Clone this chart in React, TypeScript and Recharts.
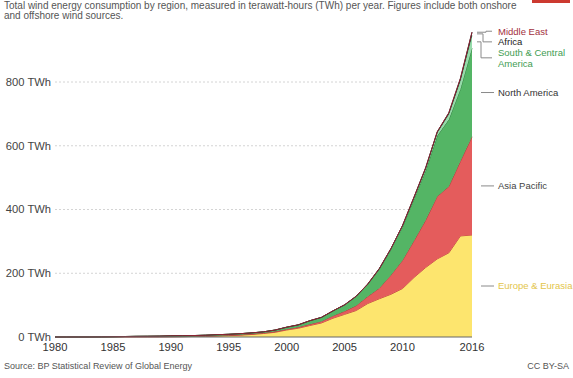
import React from "react";
import { AreaChart, Area, XAxis, YAxis, CartesianGrid, ReferenceDot } from "recharts";

// Wind energy consumption by region, TWh per year (1980–2016)
const years = [
  1980, 1981, 1982, 1983, 1984, 1985, 1986, 1987, 1988, 1989,
  1990, 1991, 1992, 1993, 1994, 1995, 1996, 1997, 1998, 1999,
  2000, 2001, 2002, 2003, 2004, 2005, 2006, 2007, 2008, 2009,
  2010, 2011, 2012, 2013, 2014, 2015, 2016,
];

const europeEurasia = [
  0, 0, 0, 0, 0.1, 0.2, 0.3, 0.4, 0.5, 0.6,
  0.8, 1.1, 1.6, 2.4, 3.3, 4.4, 5.8, 7.9, 11.0, 14.8,
  22.0, 27.5, 36.0, 44.0, 59.0, 71.0, 83.0, 105.0, 120.0, 134.0,
  152.0, 187.0, 218.0, 245.0, 264.0, 317.0, 320.0,
];

const asiaPacific = [
  0, 0, 0, 0, 0, 0, 0, 0, 0.01, 0.02,
  0.05, 0.06, 0.1, 0.2, 0.5, 0.9, 1.2, 1.6, 1.9, 2.2,
  2.6, 3.1, 3.8, 5.0, 7.2, 9.6, 15.0, 22.0, 33.0, 60.0,
  88.0, 115.0, 148.0, 196.0, 208.0, 234.0, 308.0,
];

const northAmerica = [
  0, 0.01, 0.02, 0.05, 0.2, 0.6, 1.2, 1.7, 1.8, 2.1,
  2.8, 2.9, 2.9, 3.0, 3.4, 3.2, 3.4, 3.4, 3.2, 4.7,
  5.9, 7.1, 10.8, 12.0, 15.0, 19.4, 28.7, 37.6, 59.6, 80.3,
  105.1, 131.6, 155.8, 190.0, 210.1, 226.4, 278.0,
];

const southCentralAmerica = [
  0, 0, 0, 0, 0, 0, 0, 0, 0, 0,
  0, 0, 0, 0, 0, 0, 0, 0, 0.01, 0.05,
  0.1, 0.1, 0.1, 0.1, 0.2, 0.2, 0.4, 0.6, 0.9, 1.5,
  2.8, 3.5, 6.4, 9.7, 16.9, 27.0, 40.0,
];

const africa = [
  0, 0, 0, 0, 0, 0, 0, 0, 0, 0,
  0, 0, 0, 0, 0.01, 0.02, 0.03, 0.05, 0.1, 0.1,
  0.2, 0.3, 0.4, 0.5, 0.6, 0.7, 0.8, 0.9, 1.1, 1.3,
  1.5, 2.1, 2.5, 2.9, 4.0, 6.4, 10.0,
];

const middleEast = [
  0, 0, 0, 0, 0, 0, 0, 0, 0, 0,
  0, 0, 0, 0, 0, 0, 0, 0, 0, 0,
  0.1, 0.1, 0.1, 0.1, 0.1, 0.1, 0.1, 0.1, 0.1, 0.1,
  0.2, 0.2, 0.2, 0.2, 0.2, 0.3, 0.3,
];

const xTicks = [1980, 1985, 1990, 1995, 2000, 2005, 2010, 2016];
const yTicks = [0, 200, 400, 600, 800];
const gridValues = [200, 400, 600, 800];

const series = [
  { key: "europe", name: "Europe & Eurasia", values: europeEurasia, fill: "#fde56e", stroke: "#c2553a", label: "#e3c54a" },
  { key: "asia", name: "Asia Pacific", values: asiaPacific, fill: "#e45c5c", stroke: "#b33a3a", label: "#444" },
  { key: "northAmerica", name: "North America", values: northAmerica, fill: "#54b565", stroke: "#2f7d3c", label: "#333" },
  { key: "southAmerica", name: "South & Central America", values: southCentralAmerica, fill: "#97dbab", stroke: "#6fc48a", label: "#3f9d52" },
  { key: "africa", name: "Africa", values: africa, fill: "#2d3a33", stroke: "#222", label: "#222" },
  { key: "middleEast", name: "Middle East", values: middleEast, fill: "#a83240", stroke: "#8e2434", label: "#a3303e" },
];

const data = years.map((year, i) => {
  const row: Record<string, number> = { year };
  series.forEach((s) => {
    row[s.key] = s.values[i];
  });
  return row;
});

// midpoint of each band at the final year, used to anchor its label
const last = years.length - 1;
let running = 0;
const bandMids = series.map((s) => {
  const v = s.values[last];
  const mid = running + v / 2;
  running += v;
  return mid;
});

// label layout: pixel offset of the text from the band midpoint, elbow for crowded labels
const labelLayout: Record<string, { dy: number; lines: string[]; elbow?: number }> = {
  europe: { dy: 0, lines: ["Europe & Eurasia"] },
  asia: { dy: 0, lines: ["Asia Pacific"] },
  northAmerica: { dy: 0, lines: ["North America"] },
  southAmerica: { dy: 16, lines: ["South & Central", "America"], elbow: 9 },
  africa: { dy: 8, lines: ["Africa"], elbow: 11 },
  middleEast: { dy: -1, lines: ["Middle East"], elbow: 14 },
};

const FONT = "'Liberation Sans', Arial, Helvetica, sans-serif";

const makeLabelShape = (key: string, color: string) => (props: any) => {
  const { cx, cy } = props;
  const layout = labelLayout[key];
  const ty = cy + layout.dy;
  const lineH = 11;
  const n = layout.lines.length;
  const path = layout.elbow
    ? `M${cx + 5},${cy} H${cx + layout.elbow} V${ty} H${cx + 20}`
    : `M${cx + 9},${ty} H${cx + 22}`;
  return (
    <g>
      <path d={path} stroke="#8a8a8a" strokeWidth={1} fill="none" />
      {layout.lines.map((line, i) => (
        <text
          key={i}
          x={cx + 26}
          y={ty + (i - (n - 1) / 2) * lineH}
          dy="0.35em"
          fontSize={9.5}
          fontFamily={FONT}
          fill={color}
        >
          {line}
        </text>
      ))}
    </g>
  );
};

const YTick = (props: any) => {
  const { x, y, payload } = props;
  return (
    <text x={x} y={y} dy="0.35em" textAnchor="end" fontSize={11.2} fontFamily={FONT} fill="#444">
      {`${payload.value} TWh`}
    </text>
  );
};

export default function App() {
  return (
    <div
      style={{
        position: "absolute",
        left: 0,
        top: 0,
        width: 573,
        height: 378,
        background: "#fff",
        fontFamily: FONT,
        overflow: "hidden",
      }}
    >
      <div
        style={{
          position: "absolute",
          left: 4,
          top: 1,
          width: 530,
          fontSize: 10,
          lineHeight: "10px",
          color: "#555",
        }}
      >
        Total wind energy consumption by region, measured in terawatt-hours (TWh) per year. Figures include both onshore
        <br />
        and offshore wind sources.
      </div>
      <div
        style={{
          position: "absolute",
          left: 532,
          top: 0,
          width: 38,
          height: 3,
          background: "#cc3a30",
        }}
      />
      <AreaChart
        width={573}
        height={378}
        data={data}
        margin={{ top: 31, right: 101, bottom: 21, left: 0 }}
      >
        <CartesianGrid
          vertical={false}
          horizontalValues={gridValues}
          stroke="#d4d4d4"
          strokeDasharray="2 2"
        />
        <XAxis
          dataKey="year"
          type="number"
          domain={[1980, 2016]}
          ticks={xTicks}
          interval={0}
          height={20}
          tickLine={false}
          tickSize={0}
          tickMargin={6}
          axisLine={{ stroke: "#666" }}
          tick={{ fontSize: 11.2, fill: "#333", fontFamily: FONT }}
        />
        <YAxis
          type="number"
          domain={[0, 960]}
          ticks={yTicks}
          width={55}
          axisLine={false}
          tickLine={false}
          tickSize={0}
          tickMargin={4}
          tick={<YTick />}
        />
        {series.map((s) => (
          <Area
            key={s.key}
            type="linear"
            dataKey={s.key}
            name={s.name}
            stackId="1"
            fill={s.fill}
            fillOpacity={1}
            stroke={s.stroke}
            strokeWidth={1}
            isAnimationActive={false}
            dot={false}
            activeDot={false}
          />
        ))}
        {series.map((s, i) => (
          <ReferenceDot
            key={`label-${s.key}`}
            x={2016}
            y={bandMids[i]}
            r={0}
            ifOverflow="visible"
            shape={makeLabelShape(s.key, s.label)}
          />
        ))}
      </AreaChart>
      <div
        style={{
          position: "absolute",
          left: 4,
          top: 361,
          fontSize: 9,
          color: "#555",
        }}
      >
        Source: BP Statistical Review of Global Energy
      </div>
      <div
        style={{
          position: "absolute",
          right: 4,
          top: 361,
          fontSize: 9,
          color: "#555",
        }}
      >
        CC BY-SA
      </div>
    </div>
  );
}
